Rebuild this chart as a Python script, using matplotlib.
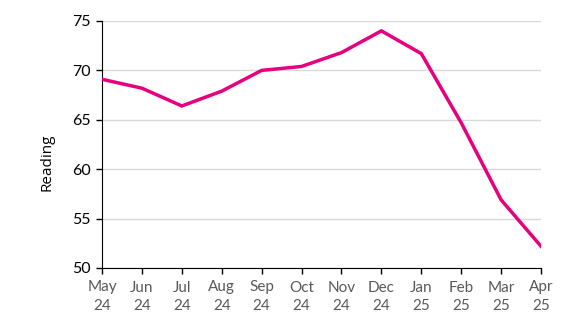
import matplotlib
matplotlib.use("Agg")
import matplotlib.pyplot as plt

months = ["May\n24", "Jun\n24", "Jul\n24", "Aug\n24", "Sep\n24", "Oct\n24",
          "Nov\n24", "Dec\n24", "Jan\n25", "Feb\n25", "Mar\n25", "Apr\n25"]
reading = [69.1, 68.2, 66.4, 67.9, 70.0, 70.4, 71.8, 74.0, 71.7, 64.7, 56.9, 52.2]
yticks = [50, 55, 60, 65, 70, 75]

plt.rcParams['font.family'] = ['Lato', 'DejaVu Sans']
fig = plt.figure(figsize=(5.73, 3.24), dpi=100)
ax = fig.add_axes([102/573, 1-268/324, (541-102)/573, (268-21)/324])
x = list(range(len(months)))
ax.plot(x, reading, color="#E6007E", lw=2.5, solid_joinstyle="miter", zorder=3)
ax.set_xlim(0, len(months)-1)
ax.set_ylim(50, 75)
ax.set_yticks(yticks)
ax.set_xticks(x)
ax.set_xticklabels(months, color="#595959", fontsize=11, linespacing=1.45)
ax.tick_params(axis='y', labelsize=11.5, colors="black", length=4, width=1, pad=4)
ax.tick_params(axis='x', length=4, width=1, colors="black", labelcolor="#595959", pad=5)
ax.grid(axis='y', color="#d9d9d9", lw=1)
ax.set_axisbelow(True)
for s in ["top", "right"]:
    ax.spines[s].set_visible(False)
ax.spines["left"].set_color("black")
ax.spines["bottom"].set_color("black")
ax.set_ylabel("Reading", fontsize=11, family=["Open Sans", "DejaVu Sans"], labelpad=13, y=0.43)
fig.savefig("out.png", dpi=100)
